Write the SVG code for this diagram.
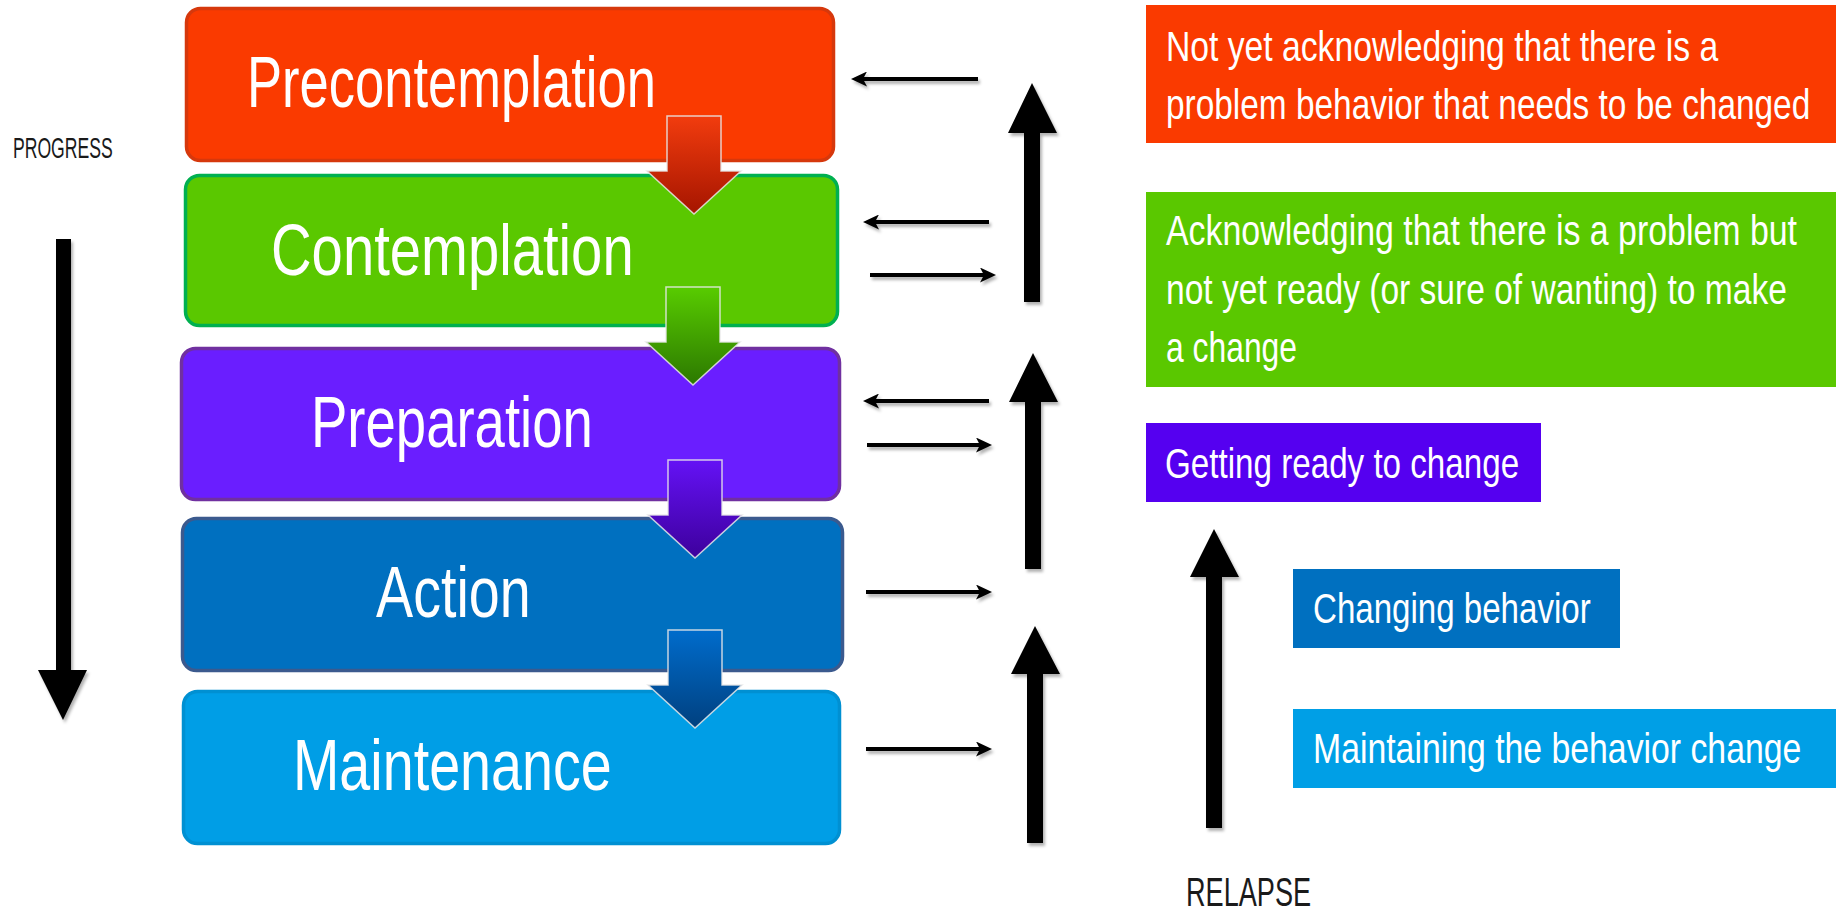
<svg xmlns="http://www.w3.org/2000/svg" xmlns:xlink="http://www.w3.org/1999/xlink" width="1839" height="912" viewBox="0 0 1839 912">
  <style>
    .stage { stroke-width: 3.5; }
    .label { font-family: "Liberation Sans", Arial, sans-serif; fill: #ffffff; font-size: 72px; }
    .desc { font-family: "Liberation Sans", Arial, sans-serif; fill: #ffffff; font-size: 43px; }
    .side { font-family: "Liberation Sans", Arial, sans-serif; fill: #1a1a1a; }
    .thin { stroke: #000000; stroke-width: 4; fill: none; }
    .bold { fill: #000000; }
    .step { stroke: #e8e8e8; stroke-opacity: 0.85; stroke-width: 1.5; }
  </style>
  <defs>
    <filter id="shadow" x="-20%" y="-20%" width="140%" height="140%">
      <feDropShadow dx="2" dy="3" stdDeviation="1.8" flood-color="#000000" flood-opacity="0.3"/>
    </filter>
    <marker id="head" markerUnits="userSpaceOnUse" markerWidth="16" markerHeight="15" refX="4" refY="7.5" orient="auto">
      <path d="M0,0 L16,7.5 L0,15 L4,7.5 Z" fill="#000000"/>
    </marker>
    <linearGradient id="gRed" x1="0" y1="0" x2="0" y2="1">
      <stop offset="0" stop-color="#f23c0e"/>
      <stop offset="1" stop-color="#a51500"/>
    </linearGradient>
    <linearGradient id="gGreen" x1="0" y1="0" x2="0" y2="1">
      <stop offset="0" stop-color="#58cc00"/>
      <stop offset="1" stop-color="#2c7800"/>
    </linearGradient>
    <linearGradient id="gPurple" x1="0" y1="0" x2="0" y2="1">
      <stop offset="0" stop-color="#6412f5"/>
      <stop offset="1" stop-color="#3d009c"/>
    </linearGradient>
    <linearGradient id="gBlue" x1="0" y1="0" x2="0" y2="1">
      <stop offset="0" stop-color="#006ccc"/>
      <stop offset="1" stop-color="#00407f"/>
    </linearGradient>
    <!-- block arrow pointing down: shaft 54 wide, head 94 wide -->
    <path id="down" d="M20,0 H74 V55 H94 L47,98 L0,55 H20 Z"/>
  </defs>

  <rect width="1839" height="912" fill="#ffffff"/>

  <!-- stage boxes; labels are narrowed horizontally to a condensed look -->
  <g id="precontemplation">
    <rect class="stage" x="186.5" y="8.5" width="647" height="152" rx="14" fill="#fa3a00" stroke="#d6380c"/>
    <text class="label" transform="translate(247,107) scale(0.77,1)" textLength="531" lengthAdjust="spacingAndGlyphs">Precontemplation</text>
  </g>
  <g id="contemplation">
    <rect class="stage" x="185.5" y="175.5" width="652" height="150" rx="14" fill="#5ac800" stroke="#00b050"/>
    <text class="label" transform="translate(271,275) scale(0.77,1)" textLength="471" lengthAdjust="spacingAndGlyphs">Contemplation</text>
  </g>
  <g id="preparation">
    <rect class="stage" x="181.5" y="348.5" width="658" height="151" rx="14" fill="#6a1eff" stroke="#7030a0"/>
    <text class="label" transform="translate(311,447) scale(0.77,1)" textLength="366" lengthAdjust="spacingAndGlyphs">Preparation</text>
  </g>
  <g id="action">
    <rect class="stage" x="182.5" y="518.5" width="660" height="152" rx="14" fill="#0070c0" stroke="#3b5a8e"/>
    <text class="label" transform="translate(376,617) scale(0.77,1)" textLength="201" lengthAdjust="spacingAndGlyphs">Action</text>
  </g>
  <g id="maintenance">
    <rect class="stage" x="183.5" y="691.5" width="656" height="152" rx="14" fill="#009ee6" stroke="#0090d2"/>
    <text class="label" transform="translate(293,790) scale(0.77,1)" textLength="414" lengthAdjust="spacingAndGlyphs">Maintenance</text>
  </g>

  <!-- stage-to-stage block arrows -->
  <g id="steps">
    <use class="step" href="#down" xlink:href="#down" transform="translate(647,116)" fill="url(#gRed)"/>
    <use class="step" href="#down" xlink:href="#down" transform="translate(646,287)" fill="url(#gGreen)"/>
    <use class="step" href="#down" xlink:href="#down" transform="translate(648,460)" fill="url(#gPurple)"/>
    <use class="step" href="#down" xlink:href="#down" transform="translate(648,630)" fill="url(#gBlue)"/>
  </g>

  <!-- description boxes -->
  <g id="desc-precontemplation">
    <rect x="1146" y="5" width="690" height="138" fill="#fa3a00"/>
    <text class="desc" transform="translate(1166,61) scale(0.78,1)" textLength="708" lengthAdjust="spacingAndGlyphs">Not yet acknowledging that there is a</text>
    <text class="desc" transform="translate(1166,119) scale(0.78,1)" textLength="826" lengthAdjust="spacingAndGlyphs">problem behavior that needs to be changed</text>
  </g>
  <g id="desc-contemplation">
    <rect x="1146" y="192" width="690" height="195" fill="#5ac800"/>
    <text class="desc" transform="translate(1166,245) scale(0.78,1)" textLength="809" lengthAdjust="spacingAndGlyphs">Acknowledging that there is a problem but</text>
    <text class="desc" transform="translate(1166,304) scale(0.78,1)" textLength="796" lengthAdjust="spacingAndGlyphs">not yet ready (or sure of wanting) to make</text>
    <text class="desc" transform="translate(1166,362) scale(0.78,1)" textLength="168" lengthAdjust="spacingAndGlyphs">a change</text>
  </g>
  <g id="desc-preparation">
    <rect x="1146" y="423" width="395" height="79" fill="#5500f0"/>
    <text class="desc" transform="translate(1165,478) scale(0.78,1)" textLength="454" lengthAdjust="spacingAndGlyphs">Getting ready to change</text>
  </g>
  <g id="desc-action">
    <rect x="1293" y="569" width="327" height="79" fill="#0070c0"/>
    <text class="desc" transform="translate(1313,623) scale(0.78,1)" textLength="356" lengthAdjust="spacingAndGlyphs">Changing behavior</text>
  </g>
  <g id="desc-maintenance">
    <rect x="1293" y="709" width="543" height="79" fill="#009fe6"/>
    <text class="desc" transform="translate(1313,763) scale(0.78,1)" textLength="626" lengthAdjust="spacingAndGlyphs">Maintaining the behavior change</text>
  </g>

  <!-- side labels -->
  <g id="progress-label">
    <text class="side" transform="translate(13,158) scale(0.59,1)" font-size="30" textLength="169" lengthAdjust="spacingAndGlyphs">PROGRESS</text>
  </g>
  <g id="relapse-label">
    <text class="side" transform="translate(1186,906) scale(0.68,1)" font-size="40" textLength="184" lengthAdjust="spacingAndGlyphs">RELAPSE</text>
  </g>

  <!-- connectors -->
  <g id="connectors" filter="url(#shadow)">
    <!-- progress arrow -->
    <path class="bold" d="M56,239 H71 V670 H87 L63,720 L38,670 H56 Z"/>
    <!-- back / forward arrows beside the stages -->
    <line class="thin" x1="978" y1="79" x2="863" y2="79" marker-end="url(#head)"/>
    <line class="thin" x1="989" y1="222" x2="875" y2="222" marker-end="url(#head)"/>
    <line class="thin" x1="870" y1="275" x2="984" y2="275" marker-end="url(#head)"/>
    <line class="thin" x1="989" y1="401" x2="875" y2="401" marker-end="url(#head)"/>
    <line class="thin" x1="867" y1="445" x2="980" y2="445" marker-end="url(#head)"/>
    <line class="thin" x1="866" y1="592" x2="980" y2="592" marker-end="url(#head)"/>
    <line class="thin" x1="866" y1="749" x2="980" y2="749" marker-end="url(#head)"/>
    <!-- relapse arrows -->
    <path class="bold" d="M1032,83 L1057,133 L1040,133 L1040,302 L1024,302 L1024,133 L1008,133 Z"/>
    <path class="bold" d="M1033,353 L1058,402 L1041,402 L1041,569 L1025,569 L1025,402 L1009,402 Z"/>
    <path class="bold" d="M1035,626 L1060,674 L1043,674 L1043,843 L1027,843 L1027,674 L1011,674 Z"/>
    <path class="bold" d="M1214,529 L1239,577 L1222,577 L1222,828 L1206,828 L1206,577 L1190,577 Z"/>
  </g>
</svg>
